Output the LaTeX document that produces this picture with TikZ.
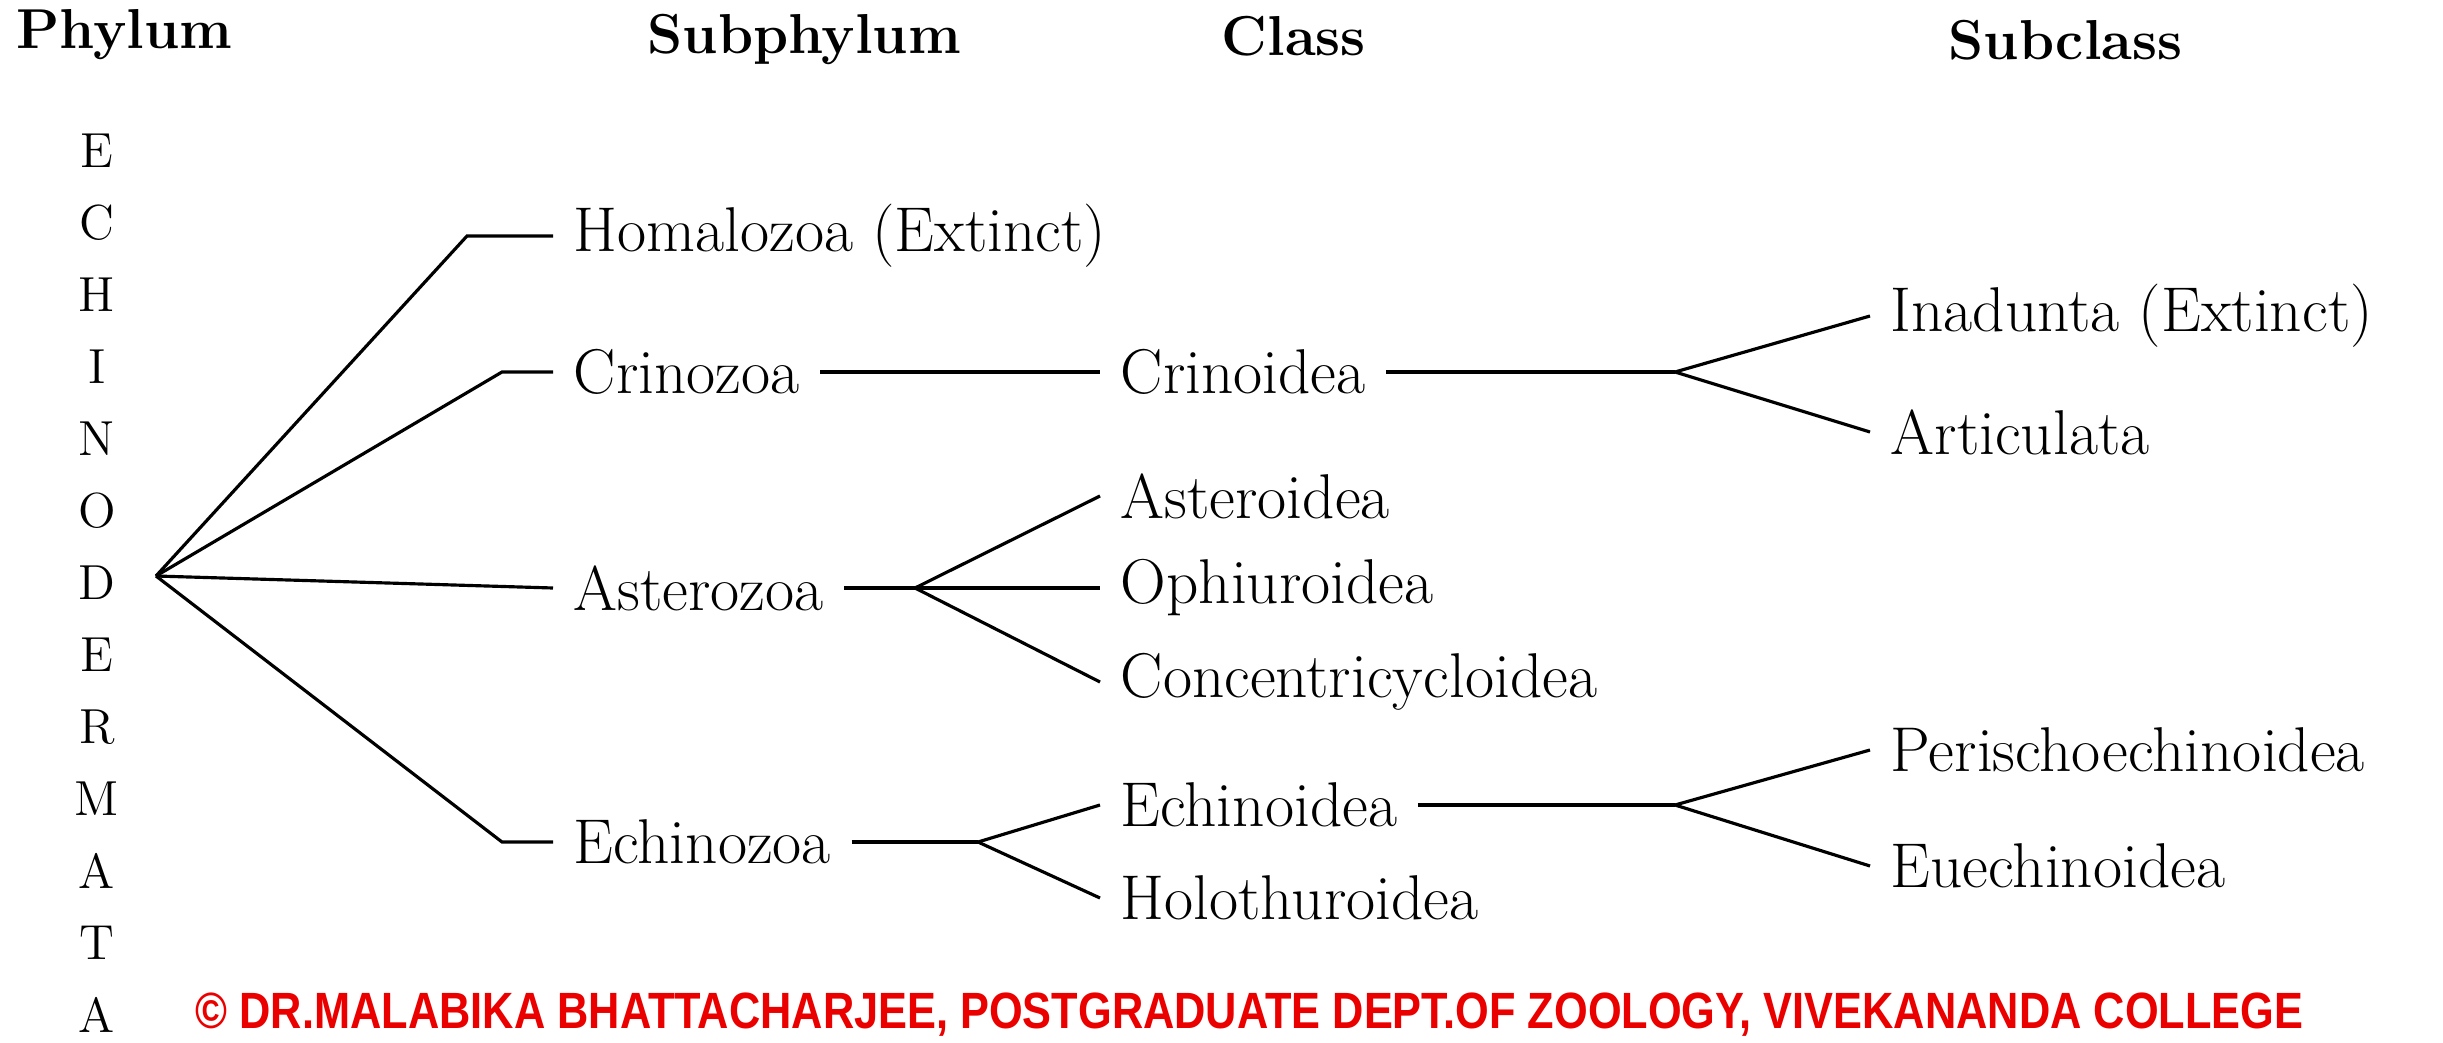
\documentclass[tikz,border=0pt]{standalone}
\usepackage{fontspec}
\usepackage{graphicx}
\usepackage{tikz}
\newfontfamily\notefont{Liberation Sans}
\definecolor{notered}{RGB}{235,0,0}
\tikzset{
    taxon/.style={anchor=west, inner xsep=0.2cm, inner ysep=0.05cm, font=\fontsize{18}{21}\selectfont},
    rank/.style={anchor=base west, inner sep=0, font=\fontsize{16}{19}\selectfont\bfseries},
    branch/.style={line width=0.9pt}
}

\begin{document}
\begin{tikzpicture}[x=0.01cm, y=-0.01cm]
        % Fix the page size
        \useasboundingbox (0,0) rectangle (2443,1043);

        % Rank headings
        \node[rank] (phylum) at (16,49) {Phylum};
        \node[rank] (subphylum) at (647,54) {Subphylum};
        \node[rank] (class) at (1221,56) {Class};
        \node[rank] (subclass) at (1948,60) {Subclass};

        % Phylum name written downwards
        \foreach \ch [count=\i from 0] in {E,C,H,I,N,O,D,E,R,M,A,T,A} {
            \node[font=\fontsize{14}{16}\selectfont, inner sep=0] (ph\i) at (97,{151+72*\i}) {\ch};
        }

        % Branch points
        \coordinate (root) at (156,576);
        \coordinate (kHom) at (467,236);
        \coordinate (kCri) at (502,372);
        \coordinate (kEch) at (502,842);
        \coordinate (jAst) at (915,588);
        \coordinate (jEch) at (978,842);
        \coordinate (jCri) at (1675,372);
        \coordinate (jEci) at (1675,805);

        % Subphyla
        \node[taxon] (homa) at (553,236) {Homalozoa (Extinct)};
        \node[taxon] (crino) at (553,372) {Crinozoa};
        \node[taxon] (aster) at (553,588) {Asterozoa};
        \node[taxon] (echino) at (553,842) {Echinozoa};

        % Classes
        \node[taxon] (crinoidea) at (1100,372) {Crinoidea};
        \node[taxon] (asteroidea) at (1100,496) {Asteroidea};
        \node[taxon] (ophiu) at (1100,588) {Ophiuroidea};
        \node[taxon] (concen) at (1100,682) {Concentricycloidea};
        \node[taxon] (echinoidea) at (1100,805) {Echinoidea};
        \node[taxon] (holo) at (1100,898) {Holothuroidea};

        % Subclasses
        \node[taxon] (inad) at (1870,316) {Inadunta (Extinct)};
        \node[taxon] (artic) at (1870,432) {Articulata};
        \node[taxon] (peris) at (1870,750) {Perischoechinoidea};
        \node[taxon] (euech) at (1870,866) {Euechinoidea};

        % Phylum to subphyla
        \draw[branch] (root) -- (kHom) -- (homa.west);
        \draw[branch] (root) -- (kCri) -- (crino.west);
        \draw[branch] (root) -- (aster.west);
        \draw[branch] (root) -- (kEch) -- (echino.west);

        % Subphyla to classes
        \draw[branch] (crino.east) -- (crinoidea.west);
        \draw[branch] (aster.east) -- (jAst);
        \foreach \c in {asteroidea, ophiu, concen} {
            \draw[branch] (jAst) -- (\c.west);
        }
        \draw[branch] (echino.east) -- (jEch);
        \foreach \c in {echinoidea, holo} {
            \draw[branch] (jEch) -- (\c.west);
        }

        % Classes to subclasses
        \draw[branch] (crinoidea.east) -- (jCri);
        \draw[branch] (jCri) -- (inad.west);
        \draw[branch] (jCri) -- (artic.west);
        \draw[branch] (echinoidea.east) -- (jEci);
        \draw[branch] (jEci) -- (peris.west);
        \draw[branch] (jEci) -- (euech.west);

        % Copyright line along the lower edge
        \node[anchor=base west, inner sep=0, text=notered, font=\notefont\bfseries\fontsize{14.5}{17}\selectfont] (note) at (195,1028)
            {\scalebox{0.85}[1]{© DR.MALABIKA BHATTACHARJEE, POSTGRADUATE DEPT.OF ZOOLOGY, VIVEKANANDA COLLEGE}};
    \end{tikzpicture}
\end{document}
